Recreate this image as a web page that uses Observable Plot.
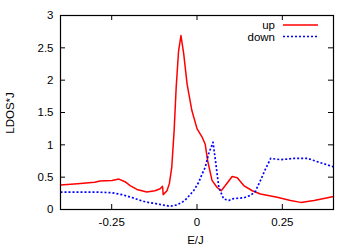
<!DOCTYPE html>
<html><head><meta charset="utf-8">
<script src="https://cdn.jsdelivr.net/npm/d3@7"></script>
<script src="https://cdn.jsdelivr.net/npm/@observablehq/plot@0.6"></script>
<style>body{margin:0;background:#fff;} svg{font-family:"Liberation Sans",Arial,sans-serif;}</style>
</head><body><div id="chart"></div>
<script>
const upE = [-0.40,-0.35,-0.30,-0.284,-0.249,-0.229,-0.211,-0.196,-0.176,-0.147,-0.123,-0.108,-0.101,-0.099,-0.088,-0.081,-0.074,-0.067,-0.061,-0.054,-0.047,-0.039,-0.029,-0.015,0.0,0.015,0.024,0.031,0.044,0.059,0.071,0.083,0.103,0.118,0.137,0.162,0.186,0.235,0.274,0.304,0.343,0.372,0.40];
const upV = [0.38,0.40,0.42,0.44,0.45,0.47,0.43,0.37,0.31,0.27,0.29,0.32,0.36,0.23,0.29,0.40,0.65,1.22,1.89,2.45,2.69,2.41,1.94,1.53,1.25,1.12,1.01,0.76,0.45,0.34,0.29,0.37,0.51,0.49,0.37,0.29,0.24,0.19,0.14,0.11,0.14,0.17,0.20];
const downE = [-0.40,-0.35,-0.30,-0.25,-0.22,-0.20,-0.182,-0.16,-0.143,-0.12,-0.10,-0.079,-0.06,-0.044,-0.03,-0.01,0.005,0.015,0.024,0.034,0.047,0.054,0.064,0.078,0.093,0.108,0.137,0.157,0.171,0.186,0.201,0.216,0.245,0.284,0.324,0.358,0.40];
const downV = [0.27,0.27,0.27,0.26,0.23,0.20,0.17,0.13,0.11,0.09,0.07,0.05,0.07,0.11,0.17,0.29,0.42,0.55,0.65,0.86,1.04,0.76,0.34,0.165,0.14,0.17,0.18,0.22,0.28,0.45,0.63,0.79,0.77,0.79,0.79,0.73,0.66];
const xTicks = [-0.25, 0, 0.25];
const xTickLabels = ["-0.25", "0", "0.25"];
const yTicks = [0, 0.5, 1, 1.5, 2, 2.5, 3];
const yTickLabels = ["0", "0.5", "1", "1.5", "2", "2.5", "3"];
const seriesNames = ["up", "down"];
const seriesColors = ["#ff0000", "#0000ff"];
const xLabel = "E/J", yLabel = "LDOS*J";

const W = 354, H = 249, mL = 60, mR = 21, mT = 15, mB = 40;
const iW = W - mL - mR, iH = H - mT - mB, tk = 5;
const up = upE.map((e, i) => ({E: e, v: upV[i]}));
const down = downE.map((e, i) => ({E: e, v: downV[i]}));

const plot = Plot.plot({
  width: W, height: H, marginLeft: mL, marginRight: mR, marginTop: mT, marginBottom: mB,
  style: {fontFamily: "Liberation Sans, Arial, sans-serif", fontSize: "11.5px", color: "#000", background: "#fff"},
  x: {domain: [-0.4, 0.4], ticks: xTicks, tickFormat: (d) => xTickLabels[xTicks.indexOf(d)], tickSize: 0, tickPadding: 8, label: null},
  y: {domain: [0, 3], ticks: yTicks, tickFormat: (d) => yTickLabels[yTicks.indexOf(d)], tickSize: 0, tickPadding: 7, label: null},
  marks: [
    Plot.tickX(xTicks, {x: d => d, insetTop: iH - tk, stroke: "#000"}),
    Plot.tickX(xTicks, {x: d => d, insetBottom: iH - tk, stroke: "#000"}),
    Plot.tickY(yTicks, {y: d => d, insetRight: iW - tk, stroke: "#000"}),
    Plot.tickY(yTicks, {y: d => d, insetLeft: iW - tk, stroke: "#000"}),
    Plot.line(up, {x: "E", y: "v", stroke: seriesColors[0], strokeWidth: 1.5}),
    Plot.line(down, {x: "E", y: "v", stroke: seriesColors[1], strokeWidth: 1.7, strokeDasharray: "2,2", strokeLinecap: "butt"}),
    Plot.frame({stroke: "#000", strokeWidth: 1.2})
  ]
});
document.getElementById("chart").appendChild(plot);

const svg = d3.select(plot);
const g = svg.append("g").attr("font-size", "11.5px").attr("fill", "#000");
g.append("text").attr("x", mL + iW / 2 - 1).attr("y", 240).attr("text-anchor", "middle").attr("dy", "0.35em").text(xLabel);
g.append("text").attr("transform", `translate(10,${mT + iH / 2 + 1}) rotate(-90)`).attr("text-anchor", "middle").attr("dy", "0.35em").text(yLabel);
seriesNames.forEach((n, i) => {
  const y = 25 + i * 11.5;
  g.append("text").attr("x", 275).attr("y", y).attr("dy", "0.35em").attr("text-anchor", "end").text(n);
  g.append("line").attr("x1", 283).attr("x2", 318).attr("y1", y).attr("y2", y)
    .attr("stroke", seriesColors[i]).attr("stroke-width", i ? 1.7 : 1.5).attr("stroke-dasharray", i ? "2,2" : null);
});
</script></body></html>
